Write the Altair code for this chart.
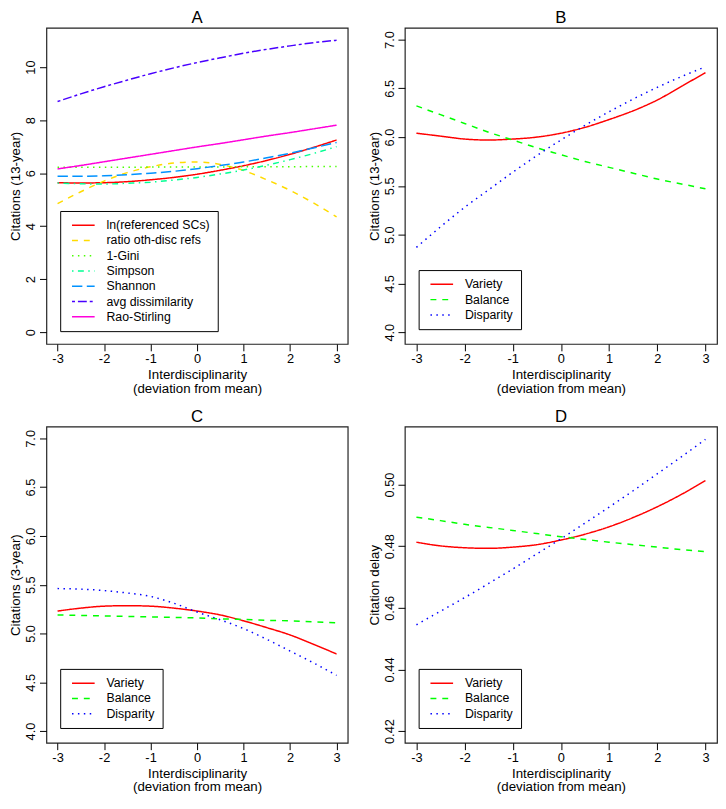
import altair as alt
import pandas as pd

FONT = "Liberation Sans"

# ---------------- data ----------------
x_vals = [-3, -2.5, -2, -1.5, -1, -0.5, 0, 0.5, 1, 1.5, 2, 2.5, 3]

a_names = ["ln(referenced SCs)", "ratio oth-disc refs", "1-Gini", "Simpson",
           "Shannon", "avg dissimilarity", "Rao-Stirling"]
a_colors = ["#FF0000", "#FFDB00", "#49FF00", "#00FF92", "#0092FF", "#4900FF", "#FF00DB"]
a_ln = [5.64, 5.63, 5.64, 5.68, 5.75, 5.84, 5.96, 6.11, 6.28, 6.48, 6.71, 6.97, 7.25]
a_ratio = [4.85, 5.30, 5.70, 6.02, 6.24, 6.38, 6.42, 6.33, 6.10, 5.75, 5.35, 4.88, 4.35]
a_gini = [6.22, 6.22, 6.22, 6.22, 6.23, 6.23, 6.23, 6.23, 6.24, 6.24, 6.24, 6.25, 6.25]
a_simpson = [5.63, 5.60, 5.59, 5.62, 5.66, 5.74, 5.84, 5.97, 6.12, 6.30, 6.51, 6.74, 7.00]
a_shannon = [5.88, 5.88, 5.90, 5.94, 6.00, 6.07, 6.17, 6.29, 6.42, 6.58, 6.75, 6.95, 7.16]
a_avgdis = [8.70, 8.99, 9.26, 9.51, 9.75, 9.97, 10.17, 10.35, 10.52, 10.67, 10.80, 10.92, 11.01]
a_rao = [6.16, 6.29, 6.43, 6.57, 6.71, 6.85, 6.99, 7.12, 7.26, 7.40, 7.53, 7.67, 7.81]

vbd_names = ["Variety", "Balance", "Disparity"]
vbd_colors = ["#FF0000", "#00FF00", "#0000FF"]

b_variety = [6.04, 6.01, 5.98, 5.97, 5.98, 6.00, 6.04, 6.10, 6.18, 6.27, 6.38, 6.52, 6.66]
b_balance = [6.32, 6.23, 6.14, 6.05, 5.97, 5.89, 5.82, 5.75, 5.69, 5.63, 5.57, 5.52, 5.47]
b_disparity = [4.87, 5.08, 5.28, 5.46, 5.64, 5.81, 5.97, 6.12, 6.26, 6.39, 6.51, 6.62, 6.72]

c_variety = [5.23, 5.26, 5.28, 5.285, 5.28, 5.26, 5.23, 5.19, 5.13, 5.06, 4.985, 4.89, 4.79]
c_balance = [5.19, 5.185, 5.18, 5.175, 5.17, 5.165, 5.16, 5.15, 5.145, 5.135, 5.13, 5.12, 5.11]
c_disparity = [5.46, 5.455, 5.44, 5.415, 5.38, 5.31, 5.22, 5.14, 5.05, 4.94, 4.82, 4.70, 4.57]

d_variety = [0.4813, 0.4801, 0.4795, 0.4793, 0.4797, 0.4805, 0.4820, 0.4839, 0.4863,
             0.4893, 0.4928, 0.4968, 0.5013]
d_balance = [0.4894, 0.4883, 0.4871, 0.4861, 0.4851, 0.4841, 0.4831, 0.4822, 0.4813,
             0.4805, 0.4797, 0.4789, 0.4782]
d_disparity = [0.4545, 0.4589, 0.4633, 0.4679, 0.4726, 0.4775, 0.4824, 0.4875, 0.4927,
               0.4980, 0.5035, 0.5090, 0.5147]

x_ticks = [-3, -2, -1, 0, 1, 2, 3]
a_yticks = [0, 2, 4, 6, 8, 10]
bc_yticks = [4.0, 4.5, 5.0, 5.5, 6.0, 6.5, 7.0]
d_yticks = [0.42, 0.44, 0.46, 0.48, 0.50]

# ---------------- styles ----------------
a_dashes = [[1, 0], [6, 6], [1.5, 4.5], [1.5, 4.5, 6, 4.5], [10.5, 4.5], [3, 3, 9, 3], [1, 0]]
vbd_dashes = [[1, 0], [6, 6], [1.5, 4.5]]

PW_L = 306
PW_R = 317
PH = 321


def make_df(names, series_list):
    rows = []
    for n, ys in zip(names, series_list):
        for xv, yv in zip(x_vals, ys):
            rows.append({"x": xv, "y": yv, "series": n})
    return pd.DataFrame(rows)


def panel(letter, names, colors, dashes, series_list, ydomain, yticks, yfmt,
          ytitle, w, h, n_items):
    df = make_df(names, series_list)
    box_h = n_items * 15 + 14
    leg = alt.Legend(orient="none", legendX=14, legendY=h - 16 - box_h, title=None,
                     strokeColor="black", fillColor="white", padding=8,
                     cornerRadius=0, symbolType="M-2,0H2", symbolSize=132,
                     symbolStrokeWidth=1.5, symbolFillColor="transparent",
                     labelFont=FONT, labelFontSize=12.5,
                     labelColor="black", labelOffset=17, rowPadding=2.5,
                     symbolOffset=9, labelLimit=300)
    return alt.Chart(
        df,
        title=alt.TitleParams(letter, fontSize=17, font=FONT, fontWeight="normal",
                              offset=1, color="black", anchor="middle"),
    ).mark_line(strokeWidth=1.5, interpolate="monotone").encode(
        x=alt.X("x:Q",
                scale=alt.Scale(domain=[-3.24, 3.24], nice=False, zero=False),
                axis=alt.Axis(values=x_ticks, labelExpr="datum.value + ''",
                              title=["Interdisciplinarity", "(deviation from mean)"])),
        y=alt.Y("y:Q",
                scale=alt.Scale(domain=ydomain, nice=False, zero=False),
                axis=alt.Axis(values=yticks, format=yfmt, title=ytitle, labelAngle=270,
                              labelPadding=2, titlePadding=2)),
        color=alt.Color("series:N", scale=alt.Scale(domain=names, range=colors), legend=leg),
        strokeDash=alt.StrokeDash("series:N", scale=alt.Scale(domain=names, range=dashes),
                                  legend=leg),
    ).properties(width=w, height=h)


pA = panel("A", a_names, a_colors, a_dashes,
           [a_ln, a_ratio, a_gini, a_simpson, a_shannon, a_avgdis, a_rao],
           [-0.44, 11.48], a_yticks, "d", "Citations (13-year)", PW_L, PH, 7)
pB = panel("B", vbd_names, vbd_colors, vbd_dashes,
           [b_variety, b_balance, b_disparity],
           [3.88, 7.12], bc_yticks, ".1f", "Citations (13-year)", PW_R, PH, 3)
pC = panel("C", vbd_names, vbd_colors, vbd_dashes,
           [c_variety, c_balance, c_disparity],
           [3.88, 7.12], bc_yticks, ".1f", "Citations (3-year)", PW_L, PH, 3)
pD = panel("D", vbd_names, vbd_colors, vbd_dashes,
           [d_variety, d_balance, d_disparity],
           [0.4162, 0.5188], d_yticks, ".2f", "Citation delay", PW_R, PH, 3)

chart = alt.concat(
    pA, pB, pC, pD, columns=2, spacing={"row": 84, "column": 58}, bounds="flush"
).resolve_scale(
    x="independent", y="independent", color="independent", strokeDash="independent"
).properties(
    padding={"left": 0, "top": -6, "right": 0, "bottom": 0}, background="white"
).configure_view(
    stroke="#222222", strokeWidth=1.2
).configure_axis(
    domain=False, grid=False, tickColor="black", tickSize=7, tickWidth=1,
    labelFont=FONT, labelFontSize=13, labelColor="black", labelPadding=2,
    labelFlush=False, labelOverlap=False,
    titleFont=FONT, titleFontSize=13.5, titleFontWeight="normal", titleColor="black",
    titlePadding=2, titleLineHeight=14
)

chart.save("out.html", embed_options={"renderer": "svg", "actions": False})
